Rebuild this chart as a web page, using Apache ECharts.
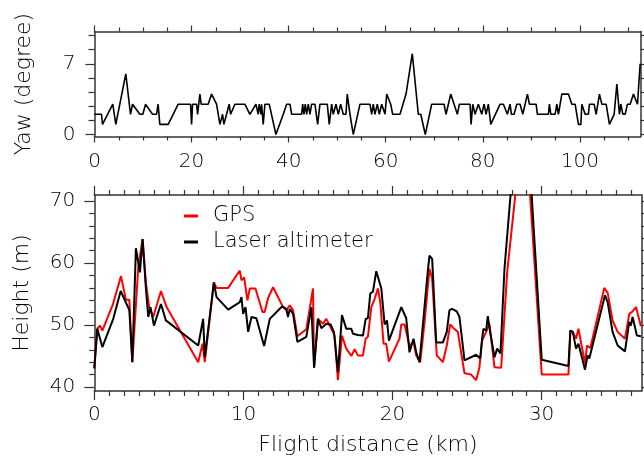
<!DOCTYPE html>
<html><head><meta charset="utf-8">
<script src="https://cdn.jsdelivr.net/npm/echarts@6/dist/echarts.min.js"></script>
<style>html,body{margin:0;padding:0;background:#fff}#c{width:644px;height:459px}</style>
</head><body><div id="c"></div>
<script>
// ---- Yaw panel data ----
const yawDistance = [
  0,1.44,1.65,3.77,4.39,6.45,7.42,7.84,9.34,9.96,
  10.52,11.96,12.78,13.11,13.46,15.18,16.21,17.24,19.79,20.0,
  20.21,21.03,21.24,21.71,21.98,23.42,24.12,24.45,25.15,25.84,
  26.39,26.66,27.75,28.04,28.93,30.99,32.02,33.26,33.73,33.94,
  34.29,34.43,34.76,35.11,36.0,37.38,38.89,39.59,40.27,40.62,
  42.68,42.89,43.15,43.42,43.71,44.04,44.39,44.74,45.42,45.98,
  46.45,47.96,48.37,48.87,49.2,49.75,50.23,50.72,51.26,51.81,
  52.08,52.64,53.32,54.7,56.76,57.11,57.44,57.79,58.27,58.68,
  59.18,59.86,60.21,61.03,61.44,62.95,64.19,65.48,66.72,67.22,
  68.16,69.48,72.02,72.43,73.4,74.76,75.18,77.38,77.59,77.94,
  78.41,79.09,79.79,80.27,80.68,81.15,81.65,83.57,84.25,85.07,
  85.63,85.9,86.45,87.01,87.69,88.25,89.2,89.61,90.99,91.26,
  93.53,93.73,94.02,94.91,95.26,95.59,96.29,97.65,98.35,99.03,
  99.71,100.21,100.41,101.09,101.77,101.98,102.95,103.36,104.04,104.54,
  105.42,106.1,107.07,107.63,108.16,108.45,108.87,109.34,109.81,110.37,
  111.05,111.4,111.88,112.43
];
const yawDegree = [
  2,2,1,3,1,6,2,3,2,2,
  3,2,2,3,1,1,2,3,3,1,
  3,3,2,4,3,3,4,4,3,1,
  2,1,3,2,3,3,2,3,2,3,
  2,3,1,3,3,0,2,3,3,2,
  2,3,2,3,2,3,2,3,3,1,
  3,3,1,3,2,3,2,3,2,2,
  4,2,0,3,3,2,3,2,3,2,
  3,2,4,3,2,2,4,8,2,2,
  0,3,3,2,4,2,3,3,1,3,
  2,3,2,3,2,3,1,3,3,2,
  3,2,2,3,3,2,4,3,3,2,
  2,3,2,2,3,2,4,4,3,3,
  1,1,3,2,2,3,3,2,4,3,
  3,1,2,5,2,3,2,2,3,3,
  4,4,3,7
];
// ---- Height panel data ----
const gpsDistance = [
  0,0.2,0.38,0.54,0.72,1.23,1.79,2.12,2.35,2.55,
  2.95,3.24,3.46,3.68,3.95,4.47,4.85,6.97,7.26,7.41,
  8.02,8.2,8.98,9.76,9.87,10.05,10.27,10.43,10.81,11.28,
  11.43,11.66,11.99,12.66,12.88,13.11,13.33,13.62,14.22,14.67,
  14.74,15.0,15.34,15.56,15.79,16.12,16.34,16.61,16.9,17.24,
  17.46,17.68,18.02,18.2,18.35,18.58,18.8,19.02,19.18,19.4,
  19.58,19.76,20.47,20.59,20.81,21.14,21.41,21.59,21.86,22.15,
  22.48,22.66,22.97,23.38,23.64,23.87,24.09,24.38,24.49,24.83,
  25.27,25.61,25.83,26.01,26.28,26.5,26.84,27.29,27.69,28.85,
  30.01,31.8,31.93,32.09,32.31,32.47,32.91,33.05,33.27,34.2,
  34.43,34.76,35.1,35.59,35.88,36.1,36.33,36.66
];
const gpsHeight = [
  43,49.4,49.9,49.1,50.2,53.2,57.9,54.1,54.1,44.0,
  59.4,63.9,56.9,52.9,51.3,55.5,52.9,44.0,47.0,44.0,
  56.9,56.0,56.0,58.8,57.2,57.7,54.0,55.9,55.9,52.1,
  52.1,54.4,56.1,52.9,52.4,53.2,52.4,48.2,49.3,55.9,
  43.1,51.0,50.2,51.0,49.9,48.3,41.1,48.3,46.2,45.0,
  46.1,45.1,45.1,47.8,48.1,52.9,54.2,55.9,53.7,47.0,
  47.0,44.1,47.8,50.1,50.1,46.6,47.3,45.1,44.0,50.5,
  59.1,57.5,45.1,44.0,46.7,50.1,49.5,48.9,48.9,42.2,
  42.0,41.1,43.2,47.5,48.9,50.2,43.2,43.1,58.5,85,
  42.0,42.0,49.1,48.9,47.8,49.4,43.8,46.7,46.3,56.0,
  55.2,50.75,48.9,47.8,51.8,52.2,52.9,49.8
];
const laserDistance = [
  0,0.2,0.54,1.27,1.77,2.35,2.55,2.79,3.06,3.24,
  3.46,3.62,3.77,4.0,4.47,4.8,6.97,7.3,7.41,8.02,
  8.2,8.98,9.76,9.87,9.98,10.14,10.32,10.54,10.87,11.39,
  11.77,12.59,12.88,12.99,13.11,13.33,13.62,14.22,14.56,14.74,
  15.0,15.23,15.56,15.85,16.07,16.34,16.61,16.9,17.24,17.35,
  17.46,17.68,18.02,18.2,18.35,18.51,18.69,18.91,19.02,19.25,
  19.47,19.63,19.76,20.59,20.92,21.14,21.41,21.59,21.81,22.37,
  22.48,22.66,22.93,23.38,23.64,23.82,24.0,24.31,24.49,24.83,
  25.61,25.88,26.01,26.1,26.28,26.39,26.55,26.84,27.02,27.24,
  27.51,28.5,28.9,30.01,31.8,31.93,32.09,32.31,32.47,32.91,
  33.09,33.2,34.25,34.43,34.76,35.1,35.59,35.88,35.99,36.1,
  36.21,36.39,36.66
];
const laserHeight = [
  43,49.4,46.45,51.0,55.5,52.4,44.0,62.4,58.5,63.9,
  55.9,51.3,52.9,49.9,53.4,50.75,46.7,51.0,44.8,56.9,
  54.5,52.5,53.7,54.5,51.8,52.9,48.9,51.3,51.1,46.6,
  51.0,53.0,52.6,51.3,52.6,51.8,47.3,48.1,52.9,43.1,
  51.0,49.5,50.2,50.1,48.9,42.4,51.6,49.4,49.4,48.6,
  48.4,48.4,48.3,51.0,51.1,55.1,55.4,58.7,58.7,55.9,
  50.1,50.75,47.5,52.9,51.1,45.6,47.8,45.6,44.0,58.8,
  61.2,60.7,47.2,47.2,48.9,52.4,52.6,52.2,51.3,44.3,
  45.2,44.6,47.8,49.4,49.1,51.45,48.9,44.8,46.2,45.4,
  59.1,88,88,44.4,43.4,49.1,48.9,46.2,47.0,42.8,
  45.1,44.6,54.8,53.7,48.9,46.7,45.75,50.5,49.9,51.3,
  50.2,48.3,48.2
];
// ---- tick labels ----
const yawXTicks = [0,20,40,60,80,100];
const yawXMinor = [5,10,15,25,30,35,45,50,55,65,70,75,85,90,95,105,110];
const yawYTicks = [0,7];
const yawYMinor = [1.4,2.8,4.2,5.6,8.4,9.8];
const hXTicks = [0,10,20,30];
const hXMinor = [1,2,3,4,5,6,7,8,9,11,12,13,14,15,16,17,18,19,21,22,23,24,25,26,27,28,29,31,32,33,34,35,36];
const hYTicks = [40,50,60,70];
const hYMinor = [42,44,46,48,52,54,56,58,62,64,66,68];

const FONT = 'DejaVu Sans';
const AX = '#333';
const TXT = '#000';
const WEIGHT = 200;
const pairs = (xs, ys) => xs.map((x, i) => [x, ys[i]]);

function axis(gridIndex, position, min, max, ticks, len, showLine, labels, extra, margin) {
  return Object.assign({
    type: 'value', gridIndex, position, min, max,
    axisLine: {show: showLine, onZero: false, lineStyle: {color: AX, width: 1.5}},
    axisTick: {show: true, inside: false, length: len, customValues: ticks, lineStyle: {color: AX, width: 1.2}},
    axisLabel: labels ? {show: true, customValues: labels, color: TXT, fontSize: 20, fontFamily: FONT,
                         fontWeight: WEIGHT, margin: margin || 14} : {show: false},
    splitLine: {show: false},
    minorTick: {show: false}
  }, extra || {});
}

const nameStyle = {fontSize: 22, fontFamily: FONT, fontWeight: WEIGHT, color: TXT};

const option = {
  animation: false,
  backgroundColor: '#fff',
  grid: [
    {left: 94.5, top: 31.5, width: 546, height: 105, containLabel: false, outerBoundsMode: 'none'},
    {left: 94.3, top: 195, width: 547.2, height: 196, containLabel: false, outerBoundsMode: 'none'}
  ],
  xAxis: [
    axis(0, 'bottom', 0, 112.5, yawXTicks, 6, true, yawXTicks, null, 15),
    axis(0, 'bottom', 0, 112.5, yawXMinor, 4, false, null),
    axis(0, 'top', 0, 112.5, yawXTicks, 6, true, null),
    axis(0, 'top', 0, 112.5, yawXMinor, 4, false, null),
    axis(1, 'bottom', 0, 36.7, hXTicks, 9, true, hXTicks, {
      name: 'Flight distance (km)', nameLocation: 'middle', nameGap: 43, nameTextStyle: nameStyle
    }, 14),
    axis(1, 'bottom', 0, 36.7, hXMinor, 5, false, null),
    axis(1, 'top', 0, 36.7, hXTicks, 9, true, null),
    axis(1, 'top', 0, 36.7, hXMinor, 5, false, null)
  ],
  yAxis: [
    axis(0, 'left', -0.2, 10.2, yawYTicks, 9, true, yawYTicks, {
      name: 'Yaw (degree)', nameLocation: 'middle', nameGap: 59, nameTextStyle: nameStyle
    }, 19),
    axis(0, 'left', -0.2, 10.2, yawYMinor, 6, false, null),
    axis(0, 'right', -0.2, 10.2, yawYTicks, 9, true, null),
    axis(0, 'right', -0.2, 10.2, yawYMinor, 6, false, null),
    axis(1, 'left', 39.35, 71, hYTicks, 10, true, hYTicks, {
      name: 'Height (m)', nameLocation: 'middle', nameGap: 61, nameTextStyle: nameStyle
    }, 19),
    axis(1, 'left', 39.35, 71, hYMinor, 5, false, null),
    axis(1, 'right', 39.35, 71, hYTicks, 10, true, null),
    axis(1, 'right', 39.35, 71, hYMinor, 5, false, null)
  ],
  legend: {
    data: ['GPS', 'Laser altimeter'],
    orient: 'vertical', left: 184, top: 205, padding: 0,
    icon: 'rect', itemWidth: 14, itemHeight: 3, itemGap: 4,
    textStyle: {fontSize: 21, fontFamily: FONT, fontWeight: WEIGHT, color: TXT, padding: [0, 0, 0, 10], lineHeight: 22}
  },
  series: [
    {type: 'line', name: 'Yaw', xAxisIndex: 0, yAxisIndex: 0, data: pairs(yawDistance, yawDegree),
     symbol: 'none', lineStyle: {color: '#000', width: 1.6}, itemStyle: {color: '#000'}, clip: true},
    {type: 'line', name: 'GPS', xAxisIndex: 4, yAxisIndex: 4, data: pairs(gpsDistance, gpsHeight),
     symbol: 'none', lineStyle: {color: '#ff0000', width: 2}, itemStyle: {color: '#ff0000'}, clip: true},
    {type: 'line', name: 'Laser altimeter', xAxisIndex: 4, yAxisIndex: 4, data: pairs(laserDistance, laserHeight),
     symbol: 'none', lineStyle: {color: '#000', width: 2}, itemStyle: {color: '#000'}, clip: true}
  ]
};
const chart = echarts.init(document.getElementById('c'), null, {renderer: 'canvas'});
chart.setOption(option);
</script></body></html>
